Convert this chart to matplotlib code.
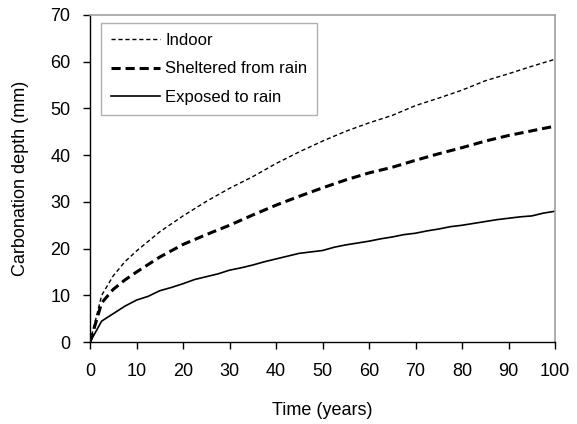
import matplotlib
matplotlib.use("Agg")
import matplotlib.pyplot as plt

plt.rcParams['font.family'] = ['Liberation Sans', 'DejaVu Sans']

# Time axis (years)
years = [0, 2.5, 5, 7.5, 10, 15, 20, 25, 30, 35, 40, 45, 50, 55, 60,
         65, 70, 75, 80, 85, 90, 95, 100]

# Carbonation depth (mm) for each exposure condition
indoor = [0, 10.0, 14.2, 17.2, 19.5, 23.6, 27.0, 30.1, 32.9, 35.4, 38.2,
          40.7, 43.0, 45.1, 46.9, 48.5, 50.6, 52.2, 53.9, 55.9, 57.4, 59.0, 60.5]
sheltered = [0, 8.4, 11.3, 13.3, 15.0, 18.2, 20.9, 23.0, 25.0, 27.2, 29.3,
             31.2, 33.0, 34.7, 36.2, 37.4, 38.9, 40.3, 41.6, 43.0, 44.2, 45.2, 46.2]

years_exposed = [0, 2.5, 5, 7.5, 10, 12.5, 15, 17.5, 20, 22.5, 25, 27.5, 30,
                 32.5, 35, 37.5, 40, 42.5, 45, 47.5, 50, 52.5, 55, 57.5, 60,
                 62.5, 65, 67.5, 70, 72.5, 75, 77.5, 80, 82.5, 85, 87.5, 90,
                 92.5, 95, 97.5, 100]
exposed = [0, 4.5, 6.1, 7.7, 9.0, 9.8, 11.0, 11.7, 12.5, 13.4, 14.0, 14.6,
           15.4, 15.9, 16.5, 17.2, 17.8, 18.4, 19.0, 19.3, 19.6, 20.3, 20.8,
           21.2, 21.6, 22.1, 22.5, 23.0, 23.3, 23.8, 24.2, 24.7, 25.0, 25.4,
           25.8, 26.2, 26.5, 26.8, 27.0, 27.6, 28.0]

x_ticks = list(range(0, 101, 10))
y_ticks = list(range(0, 71, 10))

fig = plt.figure(figsize=(5.77, 4.24), dpi=100)
ax = fig.add_axes([0.156, 0.193, 0.806, 0.772])

ax.plot(years, indoor, color='black', lw=1.0, linestyle=(0, (3, 2)),
        label='Indoor')
ax.plot(years, sheltered, color='black', lw=2.2, linestyle=(0, (3, 1.6)),
        label='Sheltered from rain')
ax.plot(years_exposed, exposed, color='black', lw=1.2, linestyle='-',
        label='Exposed to rain')

ax.set_xlim(0, 100)
ax.set_ylim(0, 70)
ax.set_xticks(x_ticks)
ax.set_yticks(y_ticks)
ax.tick_params(direction='out', length=5, width=1, labelsize=13,
               colors='black')
ax.tick_params(axis='x', pad=10)
ax.tick_params(axis='y', pad=9)

for side in ('left', 'bottom'):
    ax.spines[side].set_color('black')
    ax.spines[side].set_linewidth(1)
for side in ('top', 'right'):
    ax.spines[side].set_color('#a0a0a0')
    ax.spines[side].set_linewidth(1.2)

ax.set_xlabel('Time (years)', fontsize=13, labelpad=16)
ax.set_ylabel('Carbonation depth (mm)', fontsize=13, labelpad=15)

leg = ax.legend(loc='upper left', bbox_to_anchor=(0.024, 0.975),
                borderaxespad=0, fontsize=12, handlelength=2.95,
                handletextpad=0.3, labelspacing=0.8, borderpad=0.6,
                fancybox=False, framealpha=1, edgecolor='#b0b0b0')
leg.get_frame().set_linewidth(1)

fig.savefig('out.png', dpi=100)
